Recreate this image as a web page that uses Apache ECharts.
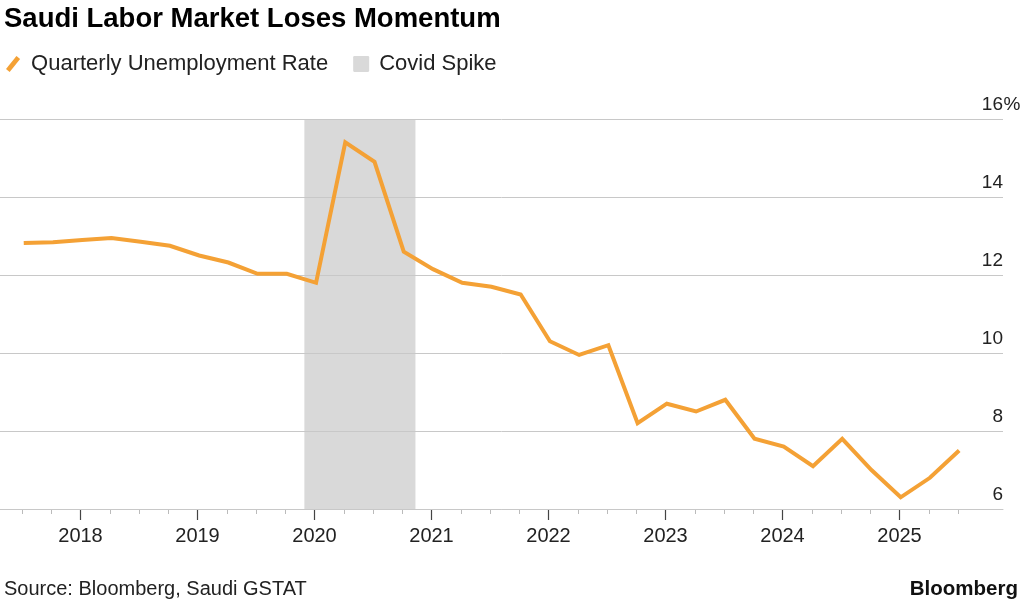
<!DOCTYPE html>
<html>
<head>
<meta charset="utf-8">
<script src="https://cdn.jsdelivr.net/npm/echarts@6/dist/echarts.min.js"></script>
<style>
html,body{margin:0;padding:0;background:#fff;}
#chart{width:1024px;height:601px;}
</style>
</head>
<body>
<div id="chart"></div>
<script>
// ---- data ----
var quarters = ['2017 Q3','2017 Q4',
  '2018 Q1','2018 Q2','2018 Q3','2018 Q4',
  '2019 Q1','2019 Q2','2019 Q3','2019 Q4',
  '2020 Q1','2020 Q2','2020 Q3','2020 Q4',
  '2021 Q1','2021 Q2','2021 Q3','2021 Q4',
  '2022 Q1','2022 Q2','2022 Q3','2022 Q4',
  '2023 Q1','2023 Q2','2023 Q3','2023 Q4',
  '2024 Q1','2024 Q2','2024 Q3','2024 Q4',
  '2025 Q1','2025 Q2','2025 Q3'];
var unemploymentRate = [12.82, 12.84, 12.9, 12.95, 12.85, 12.75,
  12.5, 12.32, 12.03, 12.03, 11.8, 15.4, 14.9, 12.6,
  12.15, 11.8, 11.7, 11.5, 10.3, 9.95, 10.2, 8.2,
  8.7, 8.5, 8.8, 7.8, 7.6, 7.1, 7.8, 7.0, 6.3, 6.8, 7.5];
var covidSpike = [2019.9, 2020.85];   // shaded period (decimal years)
var yTicks = [6, 8, 10, 12, 14, 16];
var titleText = 'Saudi Labor Market Loses Momentum';
var seriesName = 'Quarterly Unemployment Rate';
var shadeName = 'Covid Spike';
var sourceText = 'Source: Bloomberg, Saudi GSTAT';
var brandText = 'Bloomberg';

// ---- helpers ----
function qToYear(q) {
  var p = q.split(' Q');
  return +p[0] + (+p[1] - 1) / 4;
}
var linePoints = quarters.map(function (q, i) { return [qToYear(q), unemploymentRate[i]]; });

var FONT = '"Liberation Sans", Arial, sans-serif';
var ORANGE = '#F4A135';
var SHADE = '#d9d9d9';
var GRID = { top: 119, bottom: 92 };

var chart = echarts.init(document.getElementById('chart'), null, { renderer: 'canvas' });
chart.setOption({
  backgroundColor: '#fff',
  animation: false,
  textStyle: { fontFamily: FONT },
  title: [
    { text: titleText, left: -1, top: 0,
      textStyle: { fontFamily: FONT, fontSize: 27.5, fontWeight: 'bold', color: '#000' } },
    { text: sourceText, left: -1, top: 574,
      textStyle: { fontFamily: FONT, fontSize: 20, fontWeight: 'normal', color: '#222' } },
    { text: brandText, right: 1, top: 574,
      textStyle: { fontFamily: FONT, fontSize: 20.5, fontWeight: 'bold', color: '#111' } }
  ],
  legend: {
    left: 1, top: 48, itemWidth: 16, itemHeight: 16, itemGap: 25,
    selectedMode: false,
    textStyle: { fontFamily: FONT, fontSize: 22, color: '#222', padding: [0, 0, 0, 5] },
    data: [
      { name: seriesName, icon: 'path://M0,12.5 L10,0 L13.5,2.8 L3.5,15.3 Z' },
      { name: shadeName, icon: 'path://M1,0 L13,0 Q14,0 14,1 L14,13 Q14,14 13,14 L1,14 Q0,14 0,13 L0,1 Q0,0 1,0 Z' }
    ]
  },
  grid: [
    { left: 0, right: 20, top: GRID.top, bottom: GRID.bottom },
    { left: 22, right: 66, top: GRID.top, bottom: GRID.bottom },
    { left: 22, right: 66, top: GRID.top, bottom: GRID.bottom }
  ],
  xAxis: [
    { gridIndex: 0, type: 'value', min: 2017.297, max: 2025.875,
      axisLine: { show: true, lineStyle: { color: '#c8c8c8', width: 1 } },
      axisTick: { show: false }, axisLabel: { show: false }, splitLine: { show: false }, z: 2 },
    { gridIndex: 1, type: 'category', data: quarters, boundaryGap: false,
      axisLine: { show: false },
      axisTick: { show: true, interval: 0, length: 5, lineStyle: { color: '#bbb', width: 1 } },
      axisLabel: { show: false }, splitLine: { show: false } },
    { gridIndex: 2, type: 'category', data: quarters, boundaryGap: false,
      axisLine: { show: false },
      axisTick: { show: true, length: 11, lineStyle: { color: '#444', width: 1.2 },
        interval: function (i, v) { return /Q1$/.test(v); } },
      axisLabel: { show: true, margin: 17, fontSize: 20, color: '#222', fontFamily: FONT,
        interval: function (i, v) { return /Q1$/.test(v); },
        formatter: function (v) { return v.slice(0, 4); } },
      splitLine: { show: false } }
  ],
  yAxis: [
    { gridIndex: 0, type: 'value', position: 'right', min: yTicks[0], max: yTicks[yTicks.length - 1], interval: 2,
      z: 2,
      axisLine: { show: false }, axisTick: { show: false },
      splitLine: { show: true, lineStyle: { color: '#c8c8c8', width: 1 } },
      axisLabel: {
        show: true, margin: 18, align: 'right', verticalAlign: 'bottom',
        formatter: function (v) {
          return '{n|' + v + '}{p|' + (v === yTicks[yTicks.length - 1] ? '%' : '') + '}';
        },
        rich: {
          n: { fontSize: 19, fontFamily: FONT, color: '#222', lineHeight: 19, padding: [0, 0, 10, 0] },
          p: { fontSize: 19, fontFamily: FONT, color: '#222', width: 18, align: 'left', lineHeight: 19, padding: [0, 0, 10, 0] }
        }
      } },
    { gridIndex: 1, type: 'value', show: false },
    { gridIndex: 2, type: 'value', show: false }
  ],
  series: [
    { name: shadeName, type: 'line', xAxisIndex: 0, yAxisIndex: 0, data: [], z: 1,
      color: SHADE, itemStyle: { color: SHADE },
      markArea: { silent: true, itemStyle: { color: SHADE, opacity: 1 },
        data: [[{ xAxis: covidSpike[0] }, { xAxis: covidSpike[1] }]] } },
    { name: seriesName, type: 'line', xAxisIndex: 0, yAxisIndex: 0, data: linePoints, z: 3,
      color: ORANGE, showSymbol: false, symbol: 'none',
      lineStyle: { color: ORANGE, width: 4, join: 'miter' } }
  ]
});
</script>
</body>
</html>
